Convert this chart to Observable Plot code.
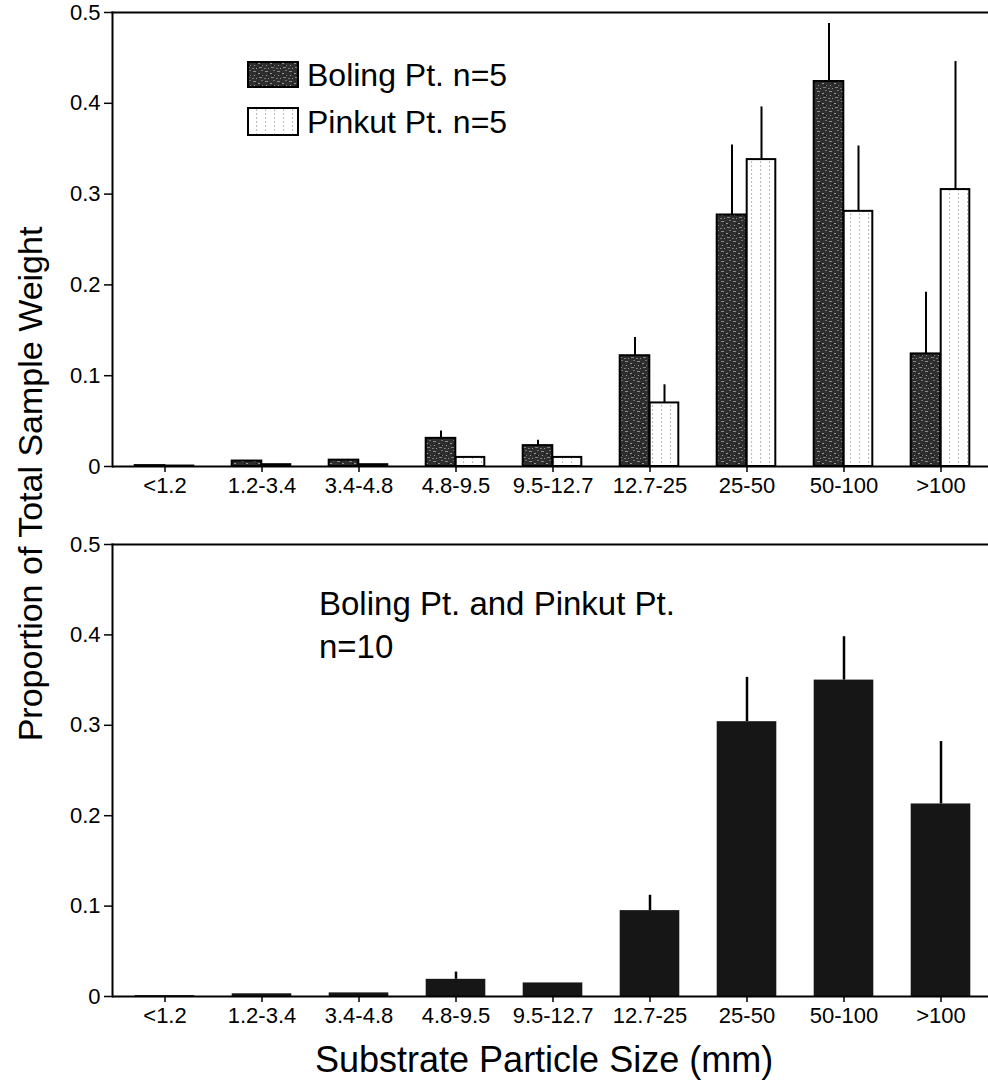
<!DOCTYPE html>
<html>
<head>
<meta charset="utf-8">
<script src="https://cdn.jsdelivr.net/npm/d3@7"></script>
<script src="https://cdn.jsdelivr.net/npm/@observablehq/plot@0.6"></script>
<style>
  html, body { margin: 0; padding: 0; background: white; }
  #wrap { position: relative; width: 988px; height: 1080px; overflow: hidden; font-family: "Liberation Sans", Arial, Helvetica, sans-serif; }
  #wrap > .panel { position: absolute; left: 0; }
  #overlay { position: absolute; left: 0; top: 0; pointer-events: none; }
</style>
</head>
<body>
<svg width="0" height="0" style="position:absolute">
  <defs>
    <pattern id="bolingTex" patternUnits="userSpaceOnUse" width="12" height="10">
      <rect width="12" height="10" fill="#2e2e2e"></rect>
      <rect x="1" y="1" width="3" height="1" fill="#8a8a8a"></rect>
      <rect x="6" y="3" width="2" height="1" fill="#969696"></rect>
      <rect x="9" y="0" width="2" height="1" fill="#707070"></rect>
      <rect x="2" y="5" width="1" height="1" fill="#9c9c9c"></rect>
      <rect x="7" y="7" width="3" height="1" fill="#808080"></rect>
      <rect x="0" y="8" width="2" height="1" fill="#777"></rect>
      <rect x="4" y="8" width="1" height="1" fill="#959595"></rect>
      <rect x="10" y="5" width="1" height="1" fill="#858585"></rect>
      <rect x="4" y="3" width="1" height="1" fill="#141414"></rect>
      <rect x="8" y="5" width="2" height="1" fill="#141414"></rect>
    </pattern>
    <pattern id="pinkutTex" patternUnits="userSpaceOnUse" width="9" height="4">
      <rect width="9" height="4" fill="white"></rect>
      <rect x="4" y="1.5" width="1.1" height="1.1" fill="#8a8a8a"></rect>
    </pattern>
  </defs>
</svg>
<div id="wrap"></div>
<script>
// ---- data ----
const categories = ["<1.2", "1.2-3.4", "3.4-4.8", "4.8-9.5", "9.5-12.7", "12.7-25", "25-50", "50-100", ">100"];
const boling     = [0.001, 0.006, 0.007, 0.031, 0.023, 0.122, 0.277, 0.424, 0.124];
const bolingErr  = [0, 0, 0, 0.008, 0.006, 0.020, 0.077, 0.064, 0.068];
const pinkut     = [0.0005, 0.002, 0.002, 0.010, 0.010, 0.070, 0.338, 0.281, 0.305];
const pinkutErr  = [0, 0, 0, 0, 0, 0.020, 0.058, 0.072, 0.141];
const combined   = [0.001, 0.003, 0.004, 0.019, 0.015, 0.095, 0.304, 0.350, 0.213];
const combinedErr= [0, 0, 0, 0.008, 0, 0.017, 0.049, 0.048, 0.069];
const yTicks = [0, 0.1, 0.2, 0.3, 0.4, 0.5];

const topData = categories.map((c, i) => ({cat: c, boling: boling[i], bErr: bolingErr[i], pinkut: pinkut[i], pErr: pinkutErr[i]}));
const botData = categories.map((c, i) => ({cat: c, v: combined[i], err: combinedErr[i]}));

const xRange = [114.5, 991];
const step = (xRange[1] - xRange[0]) / categories.length;
const fmt = d => d === 0 ? "0" : d.toFixed(1);
const style = {fontFamily: "'Liberation Sans', Arial, Helvetica, sans-serif", fontSize: "22px", color: "black", background: "white", overflow: "visible"};

const common = (extra) => Object.assign({
  width: 988,
  marginLeft: 112,
  marginRight: 0,
  marginBottom: 34,
  x: {domain: categories, range: xRange, padding: 0, label: null, axis: null},
  y: {domain: [0, 0.5], label: null, axis: null},
  style
}, extra);

const axes = () => [
  Plot.ruleY([0], {strokeWidth: 2}),
  Plot.frame({anchor: "left", strokeWidth: 2}),
  Plot.frame({anchor: "top", strokeWidth: 2}),
  Plot.axisX({tickSize: 6, tickPadding: 5, strokeWidth: 1.5, fontSize: 22, label: null}),
  Plot.axisY({ticks: yTicks, tickSize: 8, tickPadding: 4, strokeWidth: 1.5, fontSize: 22, tickFormat: fmt, label: null})
];

const topPlot = Plot.plot(common({
  height: 500,
  marginTop: 12,
  marks: [
    Plot.barY(topData, {x: "cat", y: "boling", fill: "url(#bolingTex)", stroke: "black", strokeWidth: 2, insetLeft: step / 2 - 30, insetRight: step / 2}),
    Plot.barY(topData, {x: "cat", y: "pinkut", fill: "url(#pinkutTex)", stroke: "black", strokeWidth: 2, insetLeft: step / 2, insetRight: step / 2 - 29}),
    Plot.ruleX(topData.filter(d => d.bErr > 0), {x: "cat", y1: "boling", y2: d => d.boling + d.bErr, dx: -15, strokeWidth: 2}),
    Plot.ruleX(topData.filter(d => d.pErr > 0), {x: "cat", y1: "pinkut", y2: d => d.pinkut + d.pErr, dx: 14.5, strokeWidth: 2}),
    ...axes()
  ]
}));

const botPlot = Plot.plot(common({
  height: 530,
  marginTop: 44,
  marks: [
    Plot.barY(botData, {x: "cat", y: "v", fill: "#161616", insetLeft: (step - 60) / 2, insetRight: (step - 60) / 2}),
    Plot.ruleX(botData.filter(d => d.err > 0), {x: "cat", y1: "v", y2: d => d.v + d.err, strokeWidth: 2.5}),
    ...axes()
  ]
}));

const wrap = document.getElementById("wrap");
topPlot.classList.add("panel"); topPlot.style.top = "0px";
botPlot.classList.add("panel"); botPlot.style.top = "500px";
wrap.appendChild(topPlot);
wrap.appendChild(botPlot);

// ---- overlay: titles, legend, annotation ----
const ov = d3.select(wrap).append("svg").attr("id", "overlay").attr("width", 988).attr("height", 1080)
  .style("font-family", "'Liberation Sans', Arial, Helvetica, sans-serif");

ov.append("text").attr("transform", "translate(42,484) rotate(-90)").attr("text-anchor", "middle")
  .attr("font-size", 34).text("Proportion of Total Sample Weight");
ov.append("text").attr("x", 315).attr("y", 1072).attr("font-size", 36).text("Substrate Particle Size (mm)");

const legend = [
  {label: "Boling Pt. n=5", fill: "url(#bolingTex)", y: 62, h: 25, base: 86},
  {label: "Pinkut Pt. n=5", fill: "url(#pinkutTex)", y: 108, h: 27, base: 133}
];
legend.forEach(l => {
  ov.append("rect").attr("x", 248).attr("y", l.y).attr("width", 50).attr("height", l.h)
    .attr("fill", l.fill).attr("stroke", "black").attr("stroke-width", 2);
  ov.append("text").attr("x", 307).attr("y", l.base).attr("font-size", 32).text(l.label);
});

ov.append("text").attr("x", 319).attr("y", 615).attr("font-size", 33).text("Boling Pt. and Pinkut Pt.");
ov.append("text").attr("x", 319).attr("y", 658).attr("font-size", 33).text("n=10");
</script>
</body>
</html>
